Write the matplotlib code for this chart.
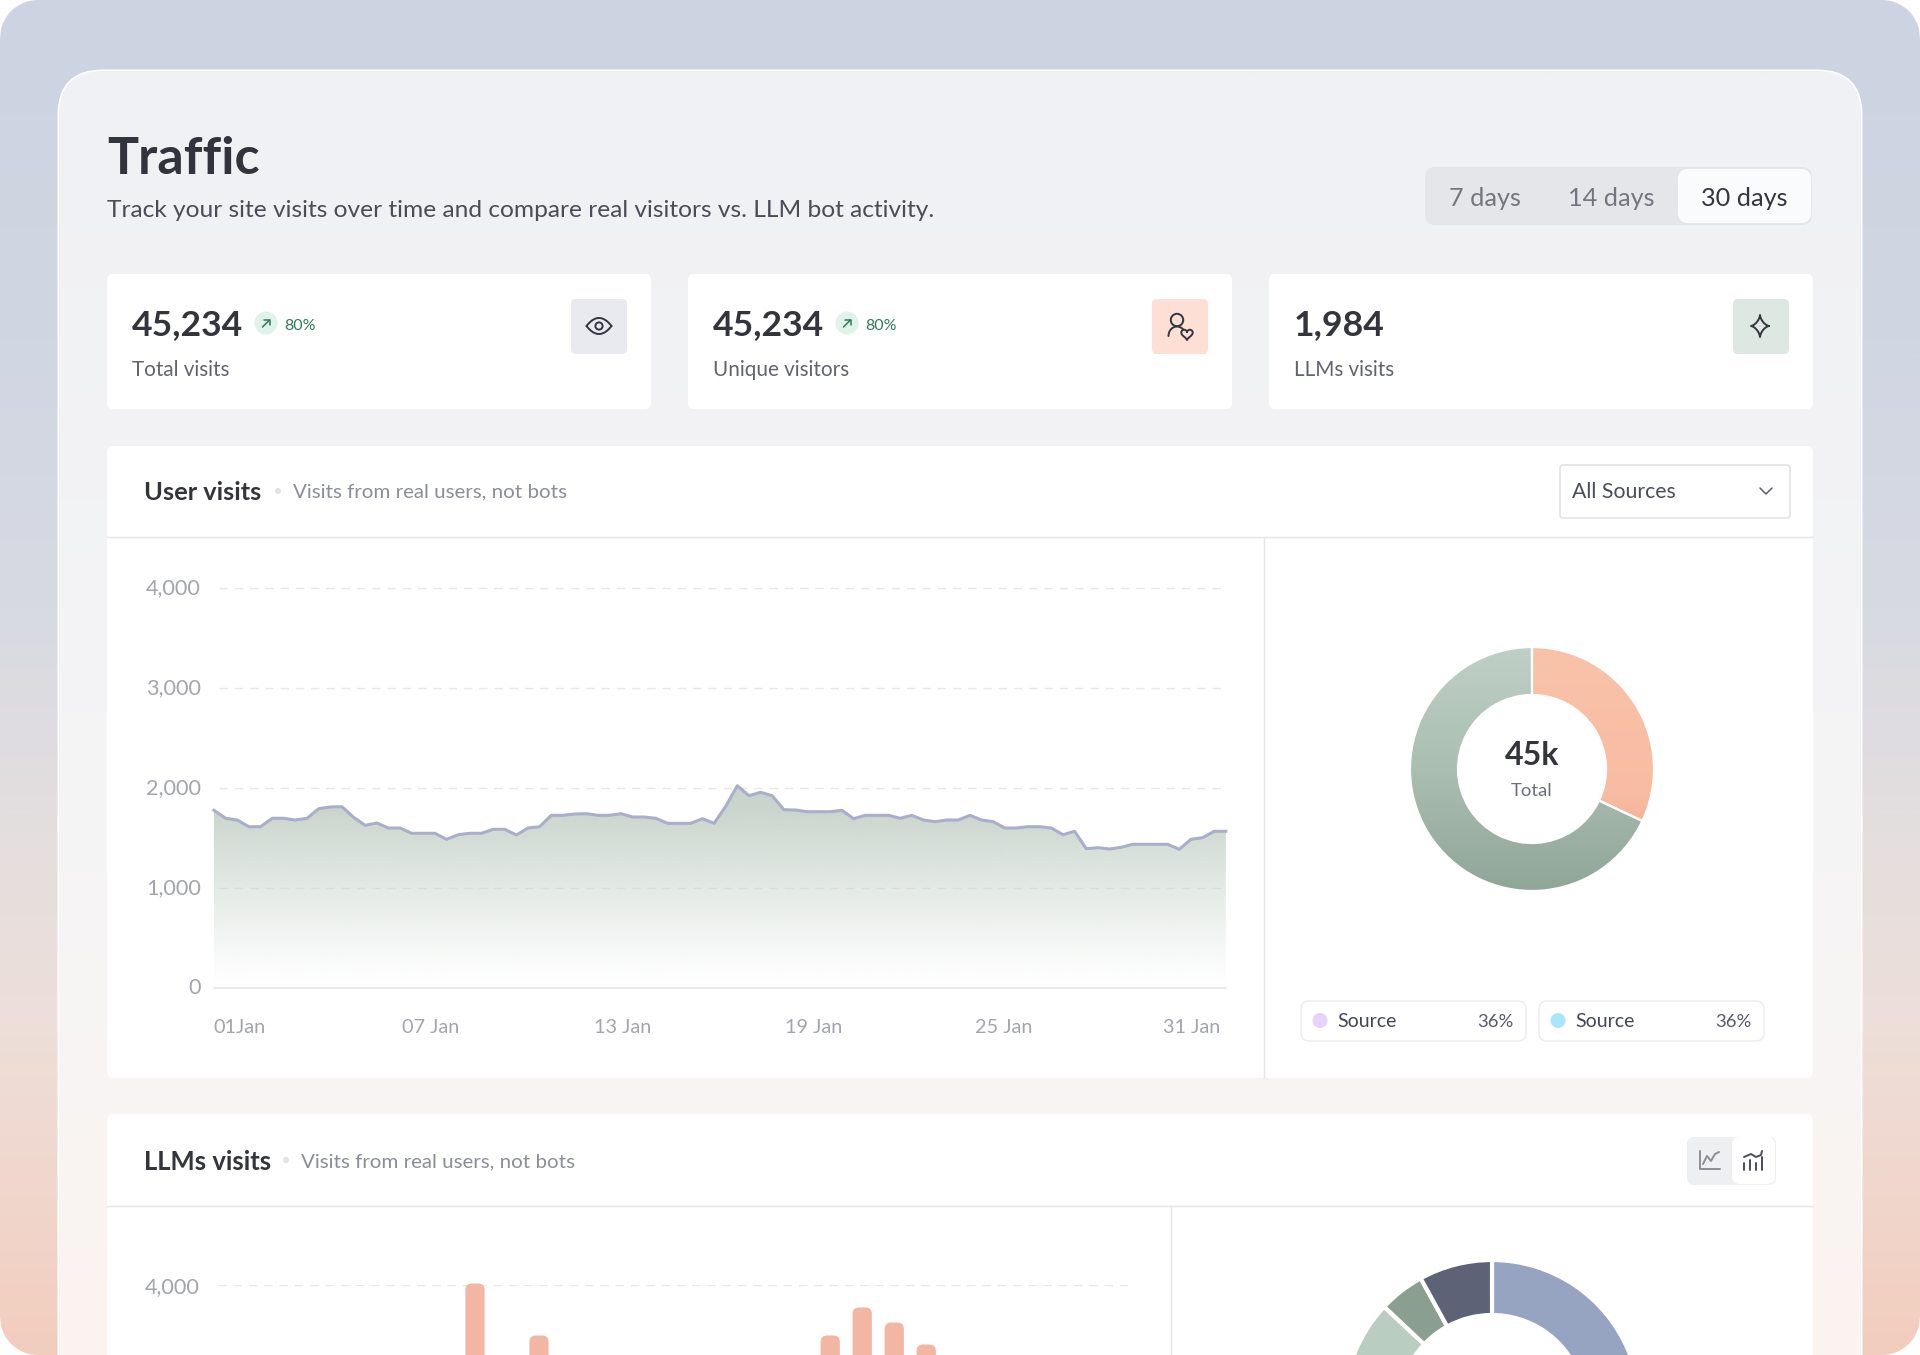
"""Traffic dashboard mock-up, drawn on one pixel-sized canvas axes plus real chart axes."""

import numpy as np
import matplotlib
matplotlib.use("Agg")
import matplotlib.pyplot as plt
from matplotlib.colors import LinearSegmentedColormap, to_rgb
from matplotlib.patches import Circle, FancyBboxPatch, Polygon

W, H = 1920, 1355

plt.rcParams["font.family"] = ["Lato", "DejaVu Sans"]

# Data
RANGE_LABELS = ["7 days", "14 days", "30 days"]
STAT_VALUES = ["45,234", "45,234", "1,984"]
STAT_LABELS = ["Total visits", "Unique visitors", "LLMs visits"]
STAT_CHANGE = ["80%", "80%", None]

VISITS = [
    1777, 1697, 1680, 1613, 1613, 1697, 1697, 1680, 1697, 1793, 1810, 1813,
    1707, 1627, 1650, 1600, 1600, 1547, 1547, 1547, 1487, 1533, 1547, 1547,
    1587, 1587, 1530, 1600, 1613, 1727, 1727, 1740, 1743, 1727, 1727, 1743,
    1710, 1710, 1697, 1647, 1647, 1647, 1693, 1647, 1817, 2023, 1923, 1957,
    1923, 1783, 1780, 1763, 1763, 1763, 1777, 1693, 1727, 1727, 1727, 1697,
    1727, 1680, 1663, 1680, 1680, 1727, 1680, 1663, 1600, 1600, 1613, 1613,
    1600, 1533, 1567, 1393, 1403, 1390, 1407, 1437, 1437, 1437, 1437, 1387,
    1487, 1503, 1567, 1567,
]
VISIT_TICKS = [2.2, 18.62, 35.12, 51.52, 67.9, 84.1]
VISIT_TICK_LABELS = ["01Jan", "07 Jan", "13 Jan", "19 Jan", "25 Jan", "31 Jan"]
Y_TICKS = [0, 1000, 2000, 3000, 4000]

SOURCE_SHARE = [32, 68]
LEGEND_NAMES = ["Source", "Source"]
LEGEND_SHARE = ["36%", "36%"]
LEGEND_COLORS = ["#E6D2FA", "#A8E6FA"]

LLM_SLOTS = [0, 2, 11.1, 12.1, 13.1, 14.1]
LLM_VISITS = [4015, 3495, 3495, 3775, 3625, 3405]
LLM_SHARE = [37.5, 25, 24.5, 5, 8]
LLM_COLORS = ["#96A3C1", "#7B8D8A", "#B9CEC1", "#8B9F90", "#5D6276"]

INK = "#33363F"
MUTED = "#8B8E99"
TICK = "#A3A5AD"
GRID = "#E6E7EA"


def add_px_axes(fig, left, top, right, bottom, **kwargs):
    """Axes placed by pixel edges, y counted from the top of the figure."""
    return fig.add_axes([left / W, 1 - bottom / H, (right - left) / W, (bottom - top) / H], **kwargs)


def rounded(ax, x0, y0, x1, y1, r, fc, ec="none", lw=0, z=2, alpha=None):
    box = FancyBboxPatch((x0, y0), x1 - x0, y1 - y0, boxstyle=f"round,pad=0,rounding_size={r}",
                         fc=fc, ec=ec, lw=lw, zorder=z, alpha=alpha)
    ax.add_patch(box)
    return box


def label(ax, x, y, s, px, color=INK, weight="normal", ha="left", **kwargs):
    """Text sized in pixels; y is the middle of the capitals, so descenders do not shift it."""
    return ax.text(x, y + 0.36 * px, s, fontsize=px * 0.72, color=color, fontweight=weight,
                   ha=ha, va="baseline", zorder=6, **kwargs)


def stroke(ax, xs, ys, color=INK, lw=1.4):
    ax.plot(xs, ys, color=color, lw=lw, solid_capstyle="round", solid_joinstyle="round", zorder=6)


def vertical_image(stops, n=512):
    cmap = LinearSegmentedColormap.from_list("v", stops)
    return cmap(np.linspace(0, 1, n))[:, None, :]


def gradient_donut(ax, values, stop_pairs, inner_ratio):
    """Pie whose wedges are used as clip paths for vertical gradients."""
    wedges, _ = ax.pie(values, startangle=90, counterclock=False, radius=1,
                       wedgeprops=dict(width=1 - inner_ratio, ec="white", lw=1.6))
    ax.set_xlim(-1, 1)
    ax.set_ylim(-1, 1)
    for wedge, stops in zip(wedges, stop_pairs):
        img = ax.imshow(vertical_image(stops), extent=[-1, 1, -1, 1], aspect="auto", zorder=1)
        img.set_clip_path(wedge)
        wedge.set_facecolor("none")
        wedge.set_zorder(2)


def draw_background(fig):
    ax = fig.add_axes([0, 0, 1, 1], zorder=0)
    ax.set_axis_off()
    stops = [(0, "#CDD4E1"), (0.25, "#D0D6E2"), (0.45, "#D8DAE2"), (0.6, "#E3DEDF"),
             (0.75, "#EDDFDA"), (0.9, "#F1D5CA"), (1, "#F2CDBE")]
    ax.imshow(vertical_image(stops), extent=[0, W, H, 0], aspect="auto")
    ax.set_xlim(0, W)
    ax.set_ylim(H, 0)
    # the picture itself has rounded corners on white
    r = 38
    for cx, x0, x1 in [(r, 0, r), (W - r, W - r, W)]:
        xs = np.linspace(x0, x1, 40)
        dy = r - np.sqrt(np.maximum(r ** 2 - (xs - cx) ** 2, 0))
        ax.add_patch(Polygon(np.r_[np.c_[xs, dy], [[x1, 0], [x0, 0]]], fc="white", ec="none"))
        ax.add_patch(Polygon(np.r_[np.c_[xs, H - dy], [[x1, H], [x0, H]]], fc="white", ec="none"))


def draw_panel(ax):
    panel = rounded(ax, 59, 71, 1861, H + 80, 44, "white", ec="#FFFFFF", lw=2.2, z=1)
    img = ax.imshow(vertical_image([(0, "#F0F1F4"), (0.5, "#F4F4F6"), (0.75, "#F8F5F4"), (1, "#FBF3F0")]),
                    extent=[59, 1861, H, 71], aspect="auto", zorder=1.1)
    img.set_clip_path(panel)
    ax.set_xlim(0, W)
    ax.set_ylim(H, 0)


def draw_header(ax):
    label(ax, 107, 155, "Traffic", 52, color="#31343D", weight="bold")
    label(ax, 107, 208, "Track your site visits over time and compare real visitors vs. LLM bot activity.", 24.5, color="#4A4D58")
    rounded(ax, 1425, 167, 1812, 225, 10, "#E5E6EA")
    rounded(ax, 1678, 169, 1811, 223, 10, "#FAFBFD")
    centers = [1485, 1611, 1744]
    for i, (cx, name) in enumerate(zip(centers, RANGE_LABELS)):
        label(ax, cx, 197, name, 25.3, color=INK if i == 2 else "#73767F", ha="center")


def draw_eye(ax, cx, cy):
    t = np.linspace(-1, 1, 40)
    stroke(ax, cx + 12.5 * t, cy - 8 * (1 - t ** 2))
    stroke(ax, cx + 12.5 * t, cy + 8 * (1 - t ** 2))
    ax.add_patch(Circle((cx, cy), 3.6, fc="none", ec=INK, lw=1.4, zorder=6))


def draw_person(ax, cx, cy):
    ax.add_patch(Circle((cx - 3, cy - 6), 6.2, fc="none", ec=INK, lw=1.4, zorder=6))
    t = np.linspace(np.pi, 1.75 * np.pi, 20)
    stroke(ax, cx - 3 + 8.5 * np.cos(t), cy + 10 + 9.5 * np.sin(t))
    t = np.linspace(0, 2 * np.pi, 40)
    hx = 0.36 * 16 * np.sin(t) ** 3
    hy = -0.36 * (13 * np.cos(t) - 5 * np.cos(2 * t) - 2 * np.cos(3 * t) - np.cos(4 * t))
    stroke(ax, cx + 7 + hx, cy + 8 + hy)


def draw_sparkle(ax, cx, cy):
    t = np.linspace(0, 2 * np.pi, 81)
    xs = cx - 1 + 9 * np.sign(np.cos(t)) * np.abs(np.cos(t)) ** 3
    ys = cy + 11 * np.sign(np.sin(t)) * np.abs(np.sin(t)) ** 3
    stroke(ax, xs, ys)


def draw_stats(ax):
    cards = [(107, 651), (688, 1232), (1269, 1813)]
    boxes = [("#E8EAEF", draw_eye), ("#FDDFD6", draw_person), ("#DEE8E3", draw_sparkle)]
    for (x0, x1), (fill, icon), value, name, change in zip(cards, boxes, STAT_VALUES, STAT_LABELS, STAT_CHANGE):
        rounded(ax, x0, 274, x1, 409, 6, "white")
        label(ax, x0 + 25, 322, value, 35.5, color="#33353B", weight="bold")
        label(ax, x0 + 25, 369, name, 20.6, color="#61646F")
        if change:
            ax.add_patch(Circle((x0 + 159, 323), 11.5, fc="#DFF3EA", ec="none", zorder=5))
            c = x0 + 159
            stroke(ax, [c - 3.5, c + 3.5], [327, 320], color="#2F7A5A", lw=1.1)
            stroke(ax, [c - 2, c + 3.5, c + 3.5], [320, 320, 325], color="#2F7A5A", lw=1.1)
            label(ax, x0 + 177, 324, change, 16, color="#2F7A5A")
        rounded(ax, x1 - 80, 299, x1 - 24, 354, 5, fill)
        icon(ax, x1 - 52, 326)


def draw_section_frames(ax):
    rounded(ax, 107, 446, 1813, 1078, 6, "white")
    ax.plot([107, 1813], [537, 537], color="#E4E5E8", lw=1, zorder=3)
    ax.plot([1264, 1264], [537, 1078], color="#E4E5E8", lw=1, zorder=3)
    label(ax, 144, 491, "User visits", 25.4, color="#33353B", weight="bold")
    ax.add_patch(Circle((278, 491), 3, fc="#E2E3E7", ec="none", zorder=5))
    label(ax, 293, 490, "Visits from real users, not bots", 20.5, color=MUTED)
    rounded(ax, 1560, 465, 1790, 518, 3, "white", ec="#E2E3E7", lw=1.2)
    label(ax, 1572, 490, "All Sources", 21.3, color="#4B4E59")
    stroke(ax, [1760, 1766, 1772], [488, 494, 488], color="#5A5D68", lw=1.1)

    rounded(ax, 107, 1114, 1813, H + 60, 6, "white")
    ax.plot([107, 1813], [1206, 1206], color="#E4E5E8", lw=1, zorder=3)
    ax.plot([1171, 1171], [1206, H], color="#E4E5E8", lw=1, zorder=3)
    label(ax, 144, 1161, "LLMs visits", 25.6, color="#33353B", weight="bold")
    ax.add_patch(Circle((286, 1160), 3, fc="#E2E3E7", ec="none", zorder=5))
    label(ax, 301, 1160, "Visits from real users, not bots", 20.5, color=MUTED)
    rounded(ax, 1687, 1137, 1776, 1185, 7, "#EEEFF1")
    rounded(ax, 1732, 1137, 1775, 1184, 8, "white")
    # line icon and line + bars icon in the toggle
    stroke(ax, [1700, 1700, 1720], [1151, 1169, 1169], color="#8C8E96", lw=1.4)
    stroke(ax, [1703, 1707, 1711, 1715, 1719], [1164, 1156, 1161, 1154, 1152], color="#8C8E96", lw=1.4)
    stroke(ax, [1744, 1751, 1756, 1761, 1762], [1157, 1154, 1157, 1155, 1151], color="#4B4E59", lw=1.4)
    for bx, top in zip([1744, 1750, 1756, 1762], [1163, 1160, 1163, 1157]):
        stroke(ax, [bx, bx], [top, 1170], color="#4B4E59", lw=1.4)


def draw_visits_chart(fig):
    # 11.63 px per point, 100 px per 1000 visits
    ax = add_px_axes(fig, 214, 588, 1228, 988, zorder=3)
    ax.patch.set_alpha(0)
    x = np.arange(len(VISITS))
    ax.set_xlim(0, 1014 / 11.63)
    ax.set_ylim(0, 4000)
    for side in ax.spines.values():
        side.set_visible(False)
    ax.set_yticks(Y_TICKS)
    ax.set_yticklabels([f"{v:,}" for v in Y_TICKS], fontsize=15.6, color=TICK, va="center")
    ax.set_xticks(VISIT_TICKS)
    ax.set_xticklabels(VISIT_TICK_LABELS, fontsize=14.3, color=TICK)
    ax.tick_params(length=0)
    ax.tick_params(axis="x", pad=22)
    ax.tick_params(axis="y", pad=9.6)
    for v in Y_TICKS[1:]:
        ax.plot([0.4, x[-1] + 0.05], [v, v], color="#DADCE0" if v == 1000 else GRID, lw=1, dashes=(6, 5), zorder=3, clip_on=False)
    ax.plot([0, x[-1] + 0.05], [0, 0], color=GRID, lw=1.2, zorder=1, clip_on=False)

    shade = ax.fill_between(x, VISITS, 0, color="none")
    fade_top = 2100
    levels = np.linspace(fade_top, 0, 256)
    rgba = np.ones((256, 1, 4))
    rgba[:, 0, :3] = np.array(to_rgb("#C9D5CC"))
    rgba[:, 0, 3] = np.minimum(levels / 1800, 1) ** 1.15
    img = ax.imshow(rgba, extent=[0, x[-1], 0, fade_top], aspect="auto", zorder=2)
    img.set_clip_path(shade.get_paths()[0], ax.transData)
    ax.set_xlim(0, 1014 / 11.63)
    ax.set_ylim(0, 4000)
    ax.plot(x, VISITS, color="#A9AFCB", lw=2.2, zorder=4, solid_joinstyle="round", clip_on=False)


def draw_source_donut(fig, ui):
    ax = add_px_axes(fig, 1410, 647, 1654, 891, zorder=3)
    stops = [
        [(0, "#F9C3AA"), (0.6, "#F8BCA2"), (1, "#E8A286")],
        [(0, "#BFD0C6"), (0.5, "#AABEB1"), (1, "#90A699")],
    ]
    gradient_donut(ax, SOURCE_SHARE, stops, 74 / 122)
    label(ui, 1532, 753, "45k", 32, color="#33353B", weight="bold", ha="center")
    label(ui, 1532, 789, "Total", 18.5, color="#6C6F7A", ha="center")

    for x0, name, share, dot in zip([1301, 1539], LEGEND_NAMES, LEGEND_SHARE, LEGEND_COLORS):
        rounded(ui, x0, 1001, x0 + 225, 1041, 8, "white", ec="#ECEDEF", lw=1.1)
        ui.add_patch(Circle((x0 + 19, 1020.5), 7.5, fc=dot, ec="none", zorder=5))
        label(ui, x0 + 36, 1020, name, 19.5, color="#43465A")
        label(ui, x0 + 213, 1020, share, 18.5, color="#56596C", ha="right")


def draw_llm_chart(fig):
    # axes run past the bottom of the figure, so the lower part of the chart is cropped
    ax = add_px_axes(fig, 218, 1285, 1133, 1685, zorder=3)
    ax.patch.set_alpha(0)
    ax.set_xlim(-8.03, 20.56)
    ax.set_ylim(0, 4000)
    for side in ax.spines.values():
        side.set_visible(False)
    ax.set_xticks([])
    ax.set_yticks([4000])
    ax.set_yticklabels(["4,000"], fontsize=15.6, color=TICK)
    ax.tick_params(length=0, pad=13.5)
    ax.axhline(4000, color=GRID, lw=1, dashes=(6, 5), zorder=1)
    bars = ax.bar(LLM_SLOTS, LLM_VISITS, width=0.6, color="none", clip_on=False)
    for bar in bars:
        px, py, w, h = bar.get_x(), bar.get_y(), bar.get_width(), bar.get_height()
        ax.add_patch(FancyBboxPatch((px, py), w, h, boxstyle="round,pad=0,rounding_size=0.2", mutation_aspect=320,
                                    fc="#F2B6A2", ec="none", zorder=2, clip_on=False))


def draw_llm_donut(fig):
    ax = add_px_axes(fig, 1344, 1260, 1640, 1556, zorder=3)
    ax.pie(LLM_SHARE, colors=LLM_COLORS, startangle=90, counterclock=False, radius=1,
           wedgeprops=dict(width=55 / 148, ec="white", lw=3))
    ax.set_xlim(-1, 1)
    ax.set_ylim(-1, 1)


def main():
    fig = plt.figure(figsize=(W / 100, H / 100), dpi=100, facecolor="white")
    draw_background(fig)
    ui = fig.add_axes([0, 0, 1, 1], zorder=1)
    ui.set_axis_off()
    ui.patch.set_alpha(0)
    draw_panel(ui)
    draw_header(ui)
    draw_stats(ui)
    draw_section_frames(ui)
    draw_visits_chart(fig)
    draw_source_donut(fig, ui)
    draw_llm_chart(fig)
    draw_llm_donut(fig)
    ui.set_xlim(0, W)
    ui.set_ylim(H, 0)
    fig.savefig("out.png", dpi=100)
    plt.close(fig)


if __name__ == "__main__":
    main()
